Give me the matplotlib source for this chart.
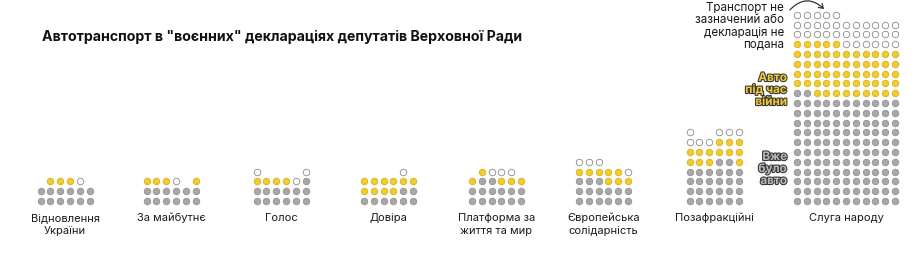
import matplotlib.pyplot as plt
import matplotlib.patheffects as pe
from matplotlib.patches import FancyArrowPatch

plt.rcParams['font.family'] = ['Inter', 'DejaVu Sans']

# factions, left to right
parties = ['Відновлення\nУкраїни', 'За майбутнє', 'Голос', 'Довіра',
           'Платформа за\nжиття та мир', 'Європейська\nсолідарність',
           'Позафракційні', 'Слуга народу']

# dots per column, stacked from the bottom: grey, then yellow, then white
grey = [
    [2, 2, 2, 2, 2, 2],
    [2, 2, 2, 2, 2, 2],
    [2, 2, 2, 2, 2, 3],
    [1, 1, 1, 1, 2, 2],
    [2, 3, 3, 2, 2, 2],
    [3, 3, 3, 2, 2, 2],
    [4, 4, 4, 5, 5, 4],
    [12, 12, 11, 11, 11, 11, 11, 11, 11, 11, 11],
]
yellow = [
    [0, 1, 1, 1, 0, 0],
    [1, 1, 1, 0, 0, 1],
    [1, 1, 1, 1, 0, 0],
    [2, 2, 2, 2, 1, 1],
    [1, 1, 0, 1, 1, 1],
    [1, 1, 1, 2, 2, 1],
    [2, 2, 2, 2, 2, 3],
    [5, 5, 6, 6, 6, 5, 5, 5, 5, 5, 5],
]
white = [
    [0, 0, 0, 0, 1, 0],
    [0, 0, 0, 1, 0, 0],
    [1, 0, 0, 0, 1, 1],
    [0, 0, 0, 0, 1, 0],
    [0, 0, 1, 1, 1, 0],
    [1, 1, 1, 0, 0, 1],
    [2, 1, 1, 1, 1, 1],
    [3, 3, 3, 3, 3, 3, 3, 3, 3, 3, 3],
]

centers = [65, 171, 281, 388.5, 496.5, 603.5, 714, 846]
step = 9.8
base_y = 202

grey_c, grey_e = '#a8a8a8', '#929292'
yel_c, yel_e = '#f2cb2f', '#d8b018'
white_c, white_e = '#ffffff', '#8a8a8a'

fig = plt.figure(figsize=(9.22, 2.55), dpi=100)
ax = fig.add_axes([0, 0, 1, 1])
ax.set_xlim(0, 922)
ax.set_ylim(255, 0)
ax.axis('off')

for i in range(len(parties)):
    ncol = len(grey[i])
    x0 = centers[i] - (ncol - 1) / 2 * step
    for c in range(ncol):
        x = x0 + c * step
        row = 0
        for n, fc, ec in [(grey[i][c], grey_c, grey_e),
                          (yellow[i][c], yel_c, yel_e),
                          (white[i][c], white_c, white_e)]:
            xs = [x] * n
            ys = [base_y - (row + k) * step for k in range(n)]
            ax.scatter(xs, ys, s=22, c=fc, edgecolors=ec, linewidths=0.6, zorder=3)
            row += n
    ax.text(centers[i], 213, parties[i], ha='center', va='top', fontsize=8.0,
            color='#1a1a1a', linespacing=1.35)

ax.text(42, 37, 'Автотранспорт в "воєнних" деклараціях депутатів Верховної Ради',
        fontsize=10.2, fontweight='bold', color='#111111', va='center', ha='left')

ax.text(784, 2, 'Транспорт не\nзазначений або\nдекларація не\nподана',
        ha='right', va='top', fontsize=8.4, color='#1a1a1a', linespacing=1.05)

arrow = FancyArrowPatch((788, 13), (826, 12), connectionstyle='arc3,rad=-0.55',
                        arrowstyle='->,head_length=3,head_width=2', color='#333333',
                        lw=0.9, zorder=4)
ax.add_patch(arrow)

stroke = [pe.withStroke(linewidth=1.6, foreground='#3a3a3a')]
ax.text(787, 73, 'Авто\nпід час\nвійни', ha='right', va='top', fontsize=8.4,
        fontweight='bold', color=yel_c, linespacing=1.0, path_effects=stroke)
ax.text(787, 152, 'Вже\nбуло\nавто', ha='right', va='top', fontsize=8.4,
        fontweight='bold', color='#b8b8b8', linespacing=1.0, path_effects=stroke)

fig.savefig('out.png', dpi=100, facecolor='white')
